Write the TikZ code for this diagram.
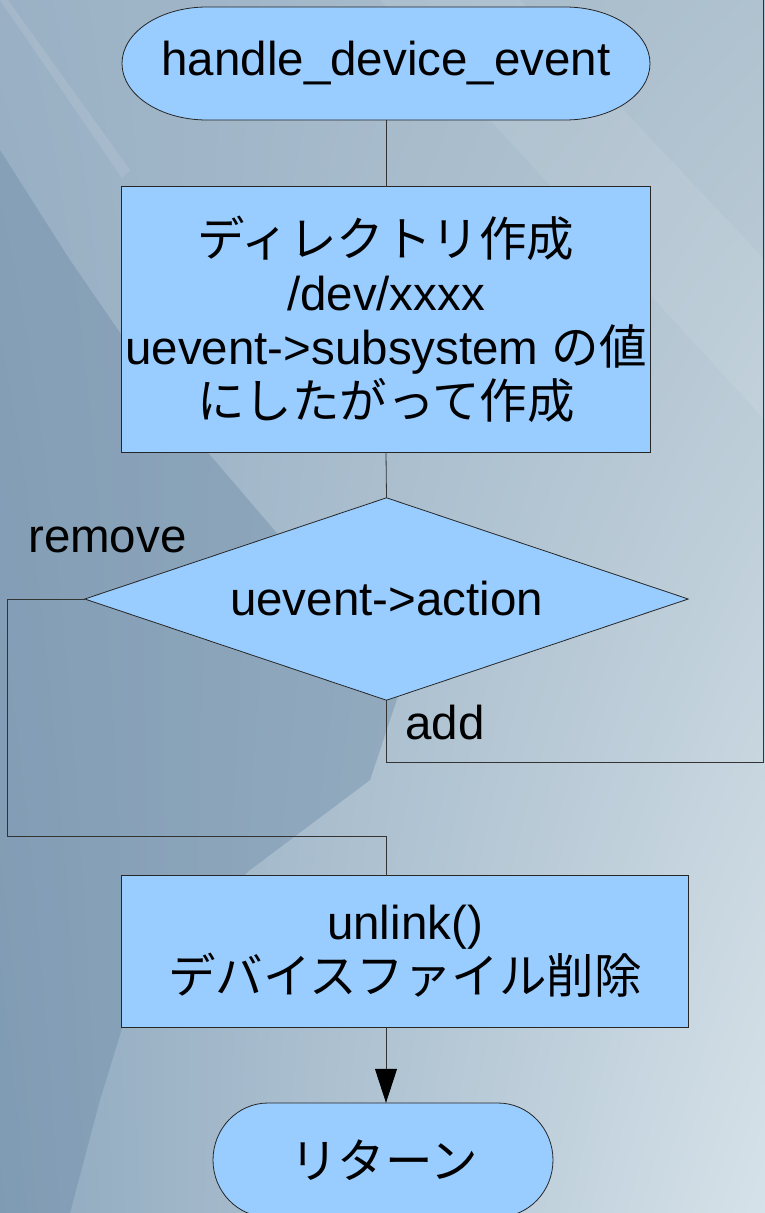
\documentclass[tikz,border=0pt]{standalone}
\usepackage{fontspec}
\setmainfont{Liberation Sans}
\newfontfamily\cjk{Noto Sans CJK JP}
\usetikzlibrary{arrows.meta,shadings}
\pgfdeclarelayer{bg}
\pgfdeclarelayer{shp}
\pgfsetlayers{bg,shp,main}
\definecolor{boxfill}{HTML}{99CCFF}
\definecolor{bgtl}{HTML}{9AB1C5}
\definecolor{bgtr}{HTML}{B0C2CF}
\definecolor{bgbl}{HTML}{8EA8BE}
\definecolor{bgbr}{HTML}{D6E2E9}
\definecolor{bgdark}{HTML}{6A88A4}
\definecolor{linecol}{HTML}{333333}
\newcommand\bigtextfont{\fontsize{47.5}{54}\selectfont\lineskiplimit=-100pt\relax}
\begin{document}
\begin{tikzpicture}[x=1pt,y=-1pt,
  txt/.style={inner sep=0pt, align=center, font=\bigtextfont},
  holder/.style={txt, draw=none},
  shapeline/.style={draw=black!85, line width=0.8pt, fill=boxfill},
  conn/.style={draw=linecol, line width=0.8pt},
  arr/.style={conn, -{Triangle[length=34pt,width=22pt,color=black]}}]
\useasboundingbox (0,0) rectangle (765,1213);

% background
\begin{pgfonlayer}{bg}
  \shade[upper left=bgtl, upper right=bgtr, lower left=bgbl, lower right=bgbr] (0,0) rectangle (765,1213);
  \fill[bgdark, opacity=0.4] (0,150) -- (70,260) -- (180,420) -- (300,560) -- (400,690) -- (370,780) -- (250,870) -- (140,970) -- (100,1100) -- (70,1213) -- (0,1213) -- cycle;
  \fill[white, opacity=0.10] (0,0) -- (8,0) -- (130,170) -- (122,178) -- cycle;
  \fill[white, opacity=0.08] (380,0) -- (520,0) -- (765,260) -- (765,420) -- cycle;
\end{pgfonlayer}

% nodes (text)
\node[holder, minimum width=528pt, minimum height=113pt] (start) at (386,63.5) {handle\_device\_event};
\node[holder, minimum width=528pt, minimum height=265pt] (mk) at (386,319.5)
  {{\cjk ディレクトリ作成}\\/dev/xxxx\\uevent->subsystem {\cjk の値}\\{\cjk にしたがって作成}};
\node[holder, minimum width=603pt, minimum height=202pt] (act) at (386.5,599) {uevent->action};
\node[holder, minimum width=566pt, minimum height=151pt] (rm) at (405,951.5) {unlink()\\{\cjk デバイスファイル削除}};
\node[holder, minimum width=340pt, minimum height=114pt] (ret) at (384,1160) {\cjk リターン};
\node[txt, anchor=base west] (lrem) at (28,552) {remove};
\node[txt, anchor=base west] (ladd) at (405,739) {add};
\coordinate (topright) at (763,0);

% shapes
\begin{pgfonlayer}{shp}
  \path[shapeline] (207,7) -- (565,7) .. controls (611.9,7) and (650,32.3) .. (650,63.5)
     .. controls (650,94.7) and (611.9,120) .. (565,120) -- (207,120)
     .. controls (160.1,120) and (122,94.7) .. (122,63.5)
     .. controls (122,32.3) and (160.1,7) .. (207,7) -- cycle;
  \path[shapeline] (mk.north west) rectangle (mk.south east);
  \path[shapeline] (act.north) -- (act.east) -- (act.south) -- (act.west) -- cycle;
  \path[shapeline] (rm.north west) rectangle (rm.south east);
  \path[shapeline] (268,1103) -- (498,1103) .. controls (528.4,1103) and (553,1128.5) .. (553,1160)
     .. controls (553,1191.5) and (528.4,1217) .. (498,1217) -- (268,1217)
     .. controls (237.6,1217) and (213,1191.5) .. (213,1160)
     .. controls (213,1128.5) and (237.6,1103) .. (268,1103) -- cycle;
\end{pgfonlayer}

% connectors
\draw[conn] (start.south) -- (mk.north);
\draw[conn] (mk.south) -- (act.north);
\draw[conn] (act.south) -- ++(0,62) -| (topright);
\draw[conn] (act.west) -- ++(-77,0) -- ++(0,237) -| (rm.north -| start.south);
\draw[arr] (rm.south -| start.south) -- (ret.north -| start.south);
\end{tikzpicture}
\end{document}
